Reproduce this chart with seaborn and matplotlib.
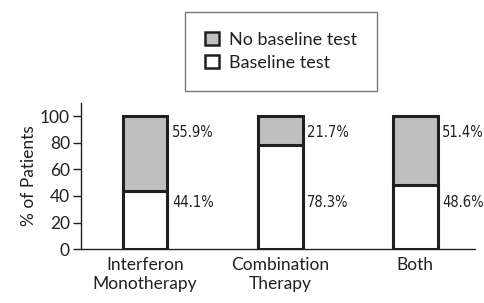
import pandas as pd
import numpy as np
import matplotlib.pyplot as plt
import seaborn as sns
from matplotlib.patches import Patch

# Chart data
groups = ['Interferon\nMonotherapy', 'Combination\nTherapy', 'Both']
baseline = [44.1, 78.3, 48.6]
no_baseline = [55.9, 21.7, 51.4]

df = pd.DataFrame({'group': groups, 'baseline': baseline, 'no_baseline': no_baseline})
df['total'] = df['baseline'] + df['no_baseline']

sns.set_style('ticks')
plt.rcParams['font.family'] = ['Lato', 'DejaVu Sans']

fig = plt.figure(figsize=(4.85, 3.03), dpi=100)
ax = fig.add_axes([0.167, 0.178, 0.812, 0.482])

# Stacked bars: full height in grey, baseline part drawn over it in white
sns.barplot(data=df, x='group', y='total', color='#c0c0c0', width=0.33,
            edgecolor='#231f20', linewidth=2.2, saturation=1, ax=ax)
sns.barplot(data=df, x='group', y='baseline', color='white', width=0.33,
            edgecolor='#231f20', linewidth=2.2, saturation=1, ax=ax)

# Percentage labels to the right of each bar
for i, row in df.iterrows():
    ax.text(i + 0.2, 88, f"{row['no_baseline']:.1f}%", fontsize=10.5,
            family='DejaVu Sans', stretch='condensed', va='center', ha='left',
            color='#231f20')
    ax.text(i + 0.2, 35, f"{row['baseline']:.1f}%", fontsize=10.5,
            family='DejaVu Sans', stretch='condensed', va='center', ha='left',
            color='#231f20')

ax.set_xlim(-0.474, 2.44)
ax.set_ylim(0, 110)
ax.set_yticks([0, 20, 40, 60, 80, 100])
ax.set_xlabel('')
ax.set_ylabel('% of Patients', fontsize=12.5, color='#231f20', labelpad=2)
ax.tick_params(axis='y', labelsize=12.5, length=6, width=1, colors='#231f20', pad=2)
ax.tick_params(axis='x', labelsize=12.5, length=0, colors='#231f20', pad=6)
sns.despine(ax=ax)
for s in ['left', 'bottom']:
    ax.spines[s].set_color('#231f20')
    ax.spines[s].set_linewidth(1)

# Legend
handles = [Patch(facecolor='#c0c0c0', edgecolor='#231f20', linewidth=1.8),
           Patch(facecolor='white', edgecolor='#231f20', linewidth=1.8)]
leg = fig.legend(handles, ['No baseline test', 'Baseline test'],
                 loc='center', bbox_to_anchor=(0.58, 0.83), fontsize=13,
                 frameon=True, fancybox=False, handlelength=0.75, handleheight=0.75,
                 handletextpad=0.6, borderpad=1.1, labelspacing=0.4,
                 borderaxespad=0, edgecolor='#555555')
leg.get_frame().set_linewidth(1)
for t in leg.get_texts():
    t.set_color('#231f20')

plt.savefig('out.png', dpi=100)
